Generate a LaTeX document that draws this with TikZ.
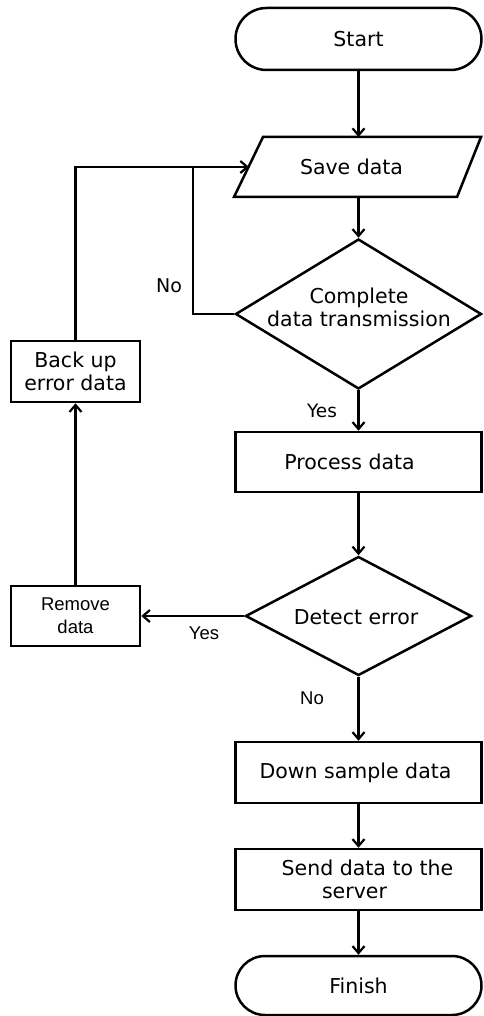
\documentclass[tikz,border=0pt]{standalone}
\usepackage{fontspec}
\setmainfont{DejaVu Sans}
\newfontfamily\arialf{Liberation Sans}
\usetikzlibrary{shapes.geometric,shapes.misc,arrows.meta}
\begin{document}
\begin{tikzpicture}[x=1pt,y=-1pt,line width=2.5pt,
  mainf/.style={font=\fontsize{20.5pt}{23pt}\selectfont},
  smallf/.style={font=\arialf\fontsize{18.5pt}{23pt}\selectfont},
  term/.style={draw,rounded rectangle,inner sep=0pt,minimum width=246pt,mainf},
  procbox/.style={draw,rectangle,inner sep=0pt,align=center,mainf},
  dec/.style={draw,diamond,inner sep=0pt},
  txt/.style={inner sep=0pt,align=center,mainf},
  arr/.style={-{Straight Barb[length=7pt,width=12pt,line width=2.2pt]}}]
\useasboundingbox (0,0) rectangle (483,1016);
% shapes
\node[term,minimum height=62pt] (start) at (358.5,39) {Start};
\draw (263,137) -- (481,137) -- (457,197) -- (234,197) -- cycle;
\node[txt] (save) at (358.5,167) {Save data\hspace*{14pt}};
\coordinate (savetop) at (358.5,137);
\coordinate (savebot) at (358.5,197);
\coordinate (saveleft) at (249,167);
\coordinate (j1) at (193,167);
\node[dec,minimum width=246pt,minimum height=150pt] (d1) at (358.5,314) {};
\node[txt] (d1t) at (359,307) {Complete\\data transmission};
\node[procbox,minimum width=129pt,minimum height=61pt] (backup) at (75.5,371.5) {Back up\\error data};
\node[procbox,minimum width=246pt,minimum height=60pt] (process) at (358.5,462) {Process data\hspace*{18pt}};
\node[dec,minimum width=226pt,minimum height=119pt] (d2) at (358.5,616) {};
\node[txt] (d2t) at (356,617) {Detect error};
\node[draw,rectangle,inner sep=0pt,align=center,smallf,minimum width=129pt,minimum height=60pt] (remove) at (75.5,616) {Remove\\data};
\node[procbox,minimum width=246pt,minimum height=61pt] (down) at (358.5,772.5) {Down sample data\hspace*{6pt}};
\node[procbox,minimum width=246pt,minimum height=61pt] (send) at (358.5,879.5) {\hspace*{18pt}Send data to the\\server\hspace*{8pt}};
\node[term,minimum height=59pt] (finish) at (358.5,985.5) {Finish};
% labels
\node[txt,font=\fontsize{19pt}{23pt}\selectfont] (no1) at (169,286) {No};
\node[txt,font=\fontsize{18.5pt}{23pt}\selectfont] (yes1) at (322,411) {Yes};
\node[inner sep=0pt,smallf] (yes2) at (204,633) {Yes};
\node[inner sep=0pt,smallf] (no2) at (312,698) {No};
% connectors
\draw[arr] (start) -- (savetop);
\draw[arr] (savebot) -- (d1.north);
\draw[arr] (d1.south) -- (process.north);
\draw[arr] (process.south) -- (d2.north);
\draw[arr] (d2.south) -- (down.north);
\draw[arr] (down.south) -- (send.north);
\draw[arr] (send.south) -- (finish.north);
\draw[arr] (d2.west) -- (remove.east);
\draw[arr] (remove.north) -- (backup.south);
\draw[arr] (backup.north) |- (saveleft);
\draw (d1.west) -| (j1);
\end{tikzpicture}
\end{document}
